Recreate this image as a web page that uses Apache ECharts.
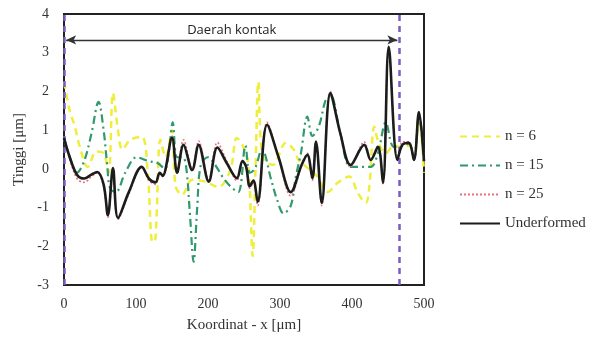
<!DOCTYPE html>
<html>
<head>
<meta charset="utf-8">
<script src="https://cdn.jsdelivr.net/npm/echarts@6/dist/echarts.min.js"></script>
<style>
  html, body { margin: 0; padding: 0; background: #fff; }
  #chart { width: 605px; height: 342px; }
</style>
</head>
<body>
<div id="chart"></div>
<script>
// Surface height profiles along x
const seriesNames = ['n = 6', 'n = 15', 'n = 25', 'Underformed'];

const xN6 = [0, 8, 15, 22, 33, 45, 55, 62, 68, 75, 81, 92, 108, 116, 123, 127, 134, 141, 150, 155, 164, 178, 196, 214, 231, 240, 249, 256, 262, 266, 270, 276, 290, 308, 319, 326, 340, 352, 366, 380, 396, 408, 419, 424, 431, 437, 447, 458, 470, 479, 486, 493, 500];
const yN6 = [2.25, 1.5, 1.1, 0.57, 0.05, 0.45, 0.4, -0.1, 1.96, 1.0, 0.5, 0.75, 0.83, 0.0, -1.9, -1.8, 0.75, 0.3, 1.0, -0.45, -0.67, -0.28, -0.33, -0.47, -0.03, 0.8, 0.57, 0.1, -2.25, 0.0, 2.25, 0.3, 0.1, 0.67, 0.5, 0.23, 0.0, -0.2, -0.6, -0.36, -0.2, -0.62, -0.88, -0.47, 1.09, 0.67, 0.4, 0.6, 0.55, 0.6, 0.3, 1.3, -0.1];

const xN15 = [0, 8, 18, 28, 38, 48, 55, 60, 64, 72, 85, 101, 117, 130, 140, 146, 151, 157, 165, 170, 175, 180, 185, 190, 200, 210, 220, 231, 242, 252, 258, 265, 275, 288, 296, 305, 315, 322, 329, 338, 345, 354, 363, 370, 384, 398, 415, 426, 436, 447, 458, 470, 479, 486, 493, 500];
const yN15 = [0.8, 0.3, -0.1, 0.2, 0.9, 1.73, 1.0, 0.1, -0.5, -0.6, -0.1, 0.3, 0.2, 0.15, 0.0, 0.5, 1.2, 0.3, 0.3, 0.0, -1.2, -2.4, -1.0, 0.1, 0.3, 0.1, -0.2, -0.45, -0.6, 0.6, -0.1, 0.0, 0.5, -0.3, -0.8, -1.15, -0.95, -0.2, 0.4, 1.35, 0.85, 1.1, 1.75, 1.9, 0.9, 0.05, 0.05, 0.05, 0.4, 1.2, 0.57, 0.6, 0.65, 0.25, 1.4, 0.2];

const xN25 = [0, 8, 18, 28, 38, 46, 55, 61, 68, 75, 90, 108, 118, 127, 133, 137, 150, 157, 166, 178, 187, 201, 213, 226, 240, 248, 253, 258, 263, 269, 282, 298, 315, 330, 338, 345, 350, 358, 370, 384, 398, 417, 426, 436, 443, 451, 463, 470, 479, 486, 493, 500];
const yN25 = [0.75, 0.25, -0.25, -0.35, -0.2, -0.1, -0.45, -1.25, 0.0, -1.3, -0.65, 0.05, -0.3, -0.4, -0.12, -0.2, 0.85, -0.12, 0.75, 0.0, 0.72, -0.28, 0.68, 0.2, -0.3, 0.22, 0.0, -0.5, -0.35, -0.95, 1.2, 0.3, -0.7, 0.1, 0.4, -0.3, 0.72, -0.95, 2.0, 0.9, 0.05, 0.7, 0.25, 0.6, -0.4, 3.1, 0.25, 0.7, 0.7, 0.25, 1.45, 0.3];

const xBase = [0, 8, 18, 28, 38, 46, 55, 61, 68, 75, 90, 108, 118, 127, 133, 137, 150, 157, 166, 178, 187, 201, 213, 226, 240, 248, 253, 258, 263, 269, 282, 298, 315, 330, 338, 345, 350, 358, 370, 384, 398, 417, 426, 436, 443, 451, 463, 470, 479, 486, 493, 500];
const yBase = [0.8, 0.3, -0.15, -0.25, -0.15, -0.08, -0.4, -1.2, 0.02, -1.27, -0.6, 0.05, -0.25, -0.35, -0.1, -0.18, 0.8, -0.1, 0.62, -0.03, 0.62, -0.33, 0.55, 0.15, -0.24, 0.2, 0.05, -0.45, -0.3, -0.85, 1.14, 0.3, -0.6, 0.1, 0.36, -0.24, 0.7, -0.88, 1.96, 0.9, 0.1, 0.62, 0.23, 0.57, -0.36, 3.15, 0.23, 0.62, 0.67, 0.23, 1.47, 0.2];

// Contact zone bounds and label
const contactStart = 0;
const contactEnd = 466;
const contactLabel = 'Daerah kontak';
const contactArrowY = 3.33;

const xTicks = { min: 0, max: 500, interval: 100 };
const yTicks = { min: -3, max: 4, interval: 1 };

const pairs = (xs, ys) => xs.map((x, i) => [x, ys[i]]);

const serif = '"Liberation Serif", "DejaVu Serif", serif';

const chart = echarts.init(document.getElementById('chart'), null, { renderer: 'canvas' });

const lineSeries = (name, xs, ys, color, width, type, z) => ({
  name,
  type: 'line',
  data: pairs(xs, ys),
  smooth: 0.35,
  symbol: 'none',
  showSymbol: false,
  z,
  lineStyle: { color, width, type },
  itemStyle: { color },
  animation: false
});

const s6 = lineSeries(seriesNames[0], xN6, yN6, '#eeee3c', 2.5, [7, 5], 2);
const s15 = lineSeries(seriesNames[1], xN15, yN15, '#2f9a6c', 2.2, [8, 4, 2, 4], 3);
const s25 = lineSeries(seriesNames[2], xN25, yN25, '#e2727c', 1.6, [2, 2], 4);
const sBase = lineSeries(seriesNames[3], xBase, yBase, '#1c1c1c', 2.6, 'solid', 5);

// contact zone: vertical bounds and double arrow
sBase.markLine = {
  silent: true,
  animation: false,
  symbol: 'none',
  label: { show: false },
  data: [
    { xAxis: contactStart, lineStyle: { color: '#7c5cc0', width: 2.5, type: [6, 5] } },
    { xAxis: contactEnd, lineStyle: { color: '#7c5cc0', width: 2.5, type: [6, 5] } },
    [
      {
        coord: [contactStart + 3, contactArrowY],
        symbol: 'arrow',
        symbolSize: [7, 10],
        lineStyle: { color: '#333', width: 1.3, type: 'solid' },
        label: {
          show: true,
          formatter: contactLabel,
          position: 'insideMiddleTop',
          distance: 3,
          color: '#222',
          fontSize: 13,
          fontFamily: '"Open Sans", "DejaVu Sans", sans-serif'
        }
      },
      { coord: [contactEnd - 3, contactArrowY], symbol: 'arrow', symbolSize: [7, 10] }
    ]
  ]
};

chart.setOption({
  backgroundColor: '#fff',
  animation: false,
  grid: {
    left: 64, right: 181, top: 14, bottom: 57,
    show: true, borderColor: '#222', borderWidth: 2, backgroundColor: 'transparent'
  },
  legend: {
    orient: 'vertical',
    left: 454,
    top: 124,
    itemWidth: 40,
    itemHeight: 14,
    itemGap: 14,
    data: seriesNames,
    itemStyle: { opacity: 0 },
    textStyle: { fontFamily: serif, fontSize: 15, color: '#333' }
  },
  xAxis: {
    type: 'value',
    min: xTicks.min, max: xTicks.max, interval: xTicks.interval,
    name: 'Koordinat - x [μm]',
    nameLocation: 'middle',
    nameGap: 33,
    nameTextStyle: { fontFamily: serif, fontSize: 15, color: '#333' },
    axisLine: { show: false },
    axisTick: { show: false },
    splitLine: { show: false },
    axisLabel: { fontFamily: serif, fontSize: 14, color: '#333', margin: 12 }
  },
  yAxis: {
    type: 'value',
    min: yTicks.min, max: yTicks.max, interval: yTicks.interval,
    name: 'Tinggi [μm]',
    nameLocation: 'middle',
    nameGap: 31,
    nameTextStyle: { fontFamily: serif, fontSize: 15, color: '#333' },
    axisLine: { show: false },
    axisTick: { show: false },
    splitLine: { show: false },
    axisLabel: { fontFamily: serif, fontSize: 14, color: '#333', margin: 15 }
  },
  series: [s6, s15, s25, sBase]
});
</script>
</body>
</html>
